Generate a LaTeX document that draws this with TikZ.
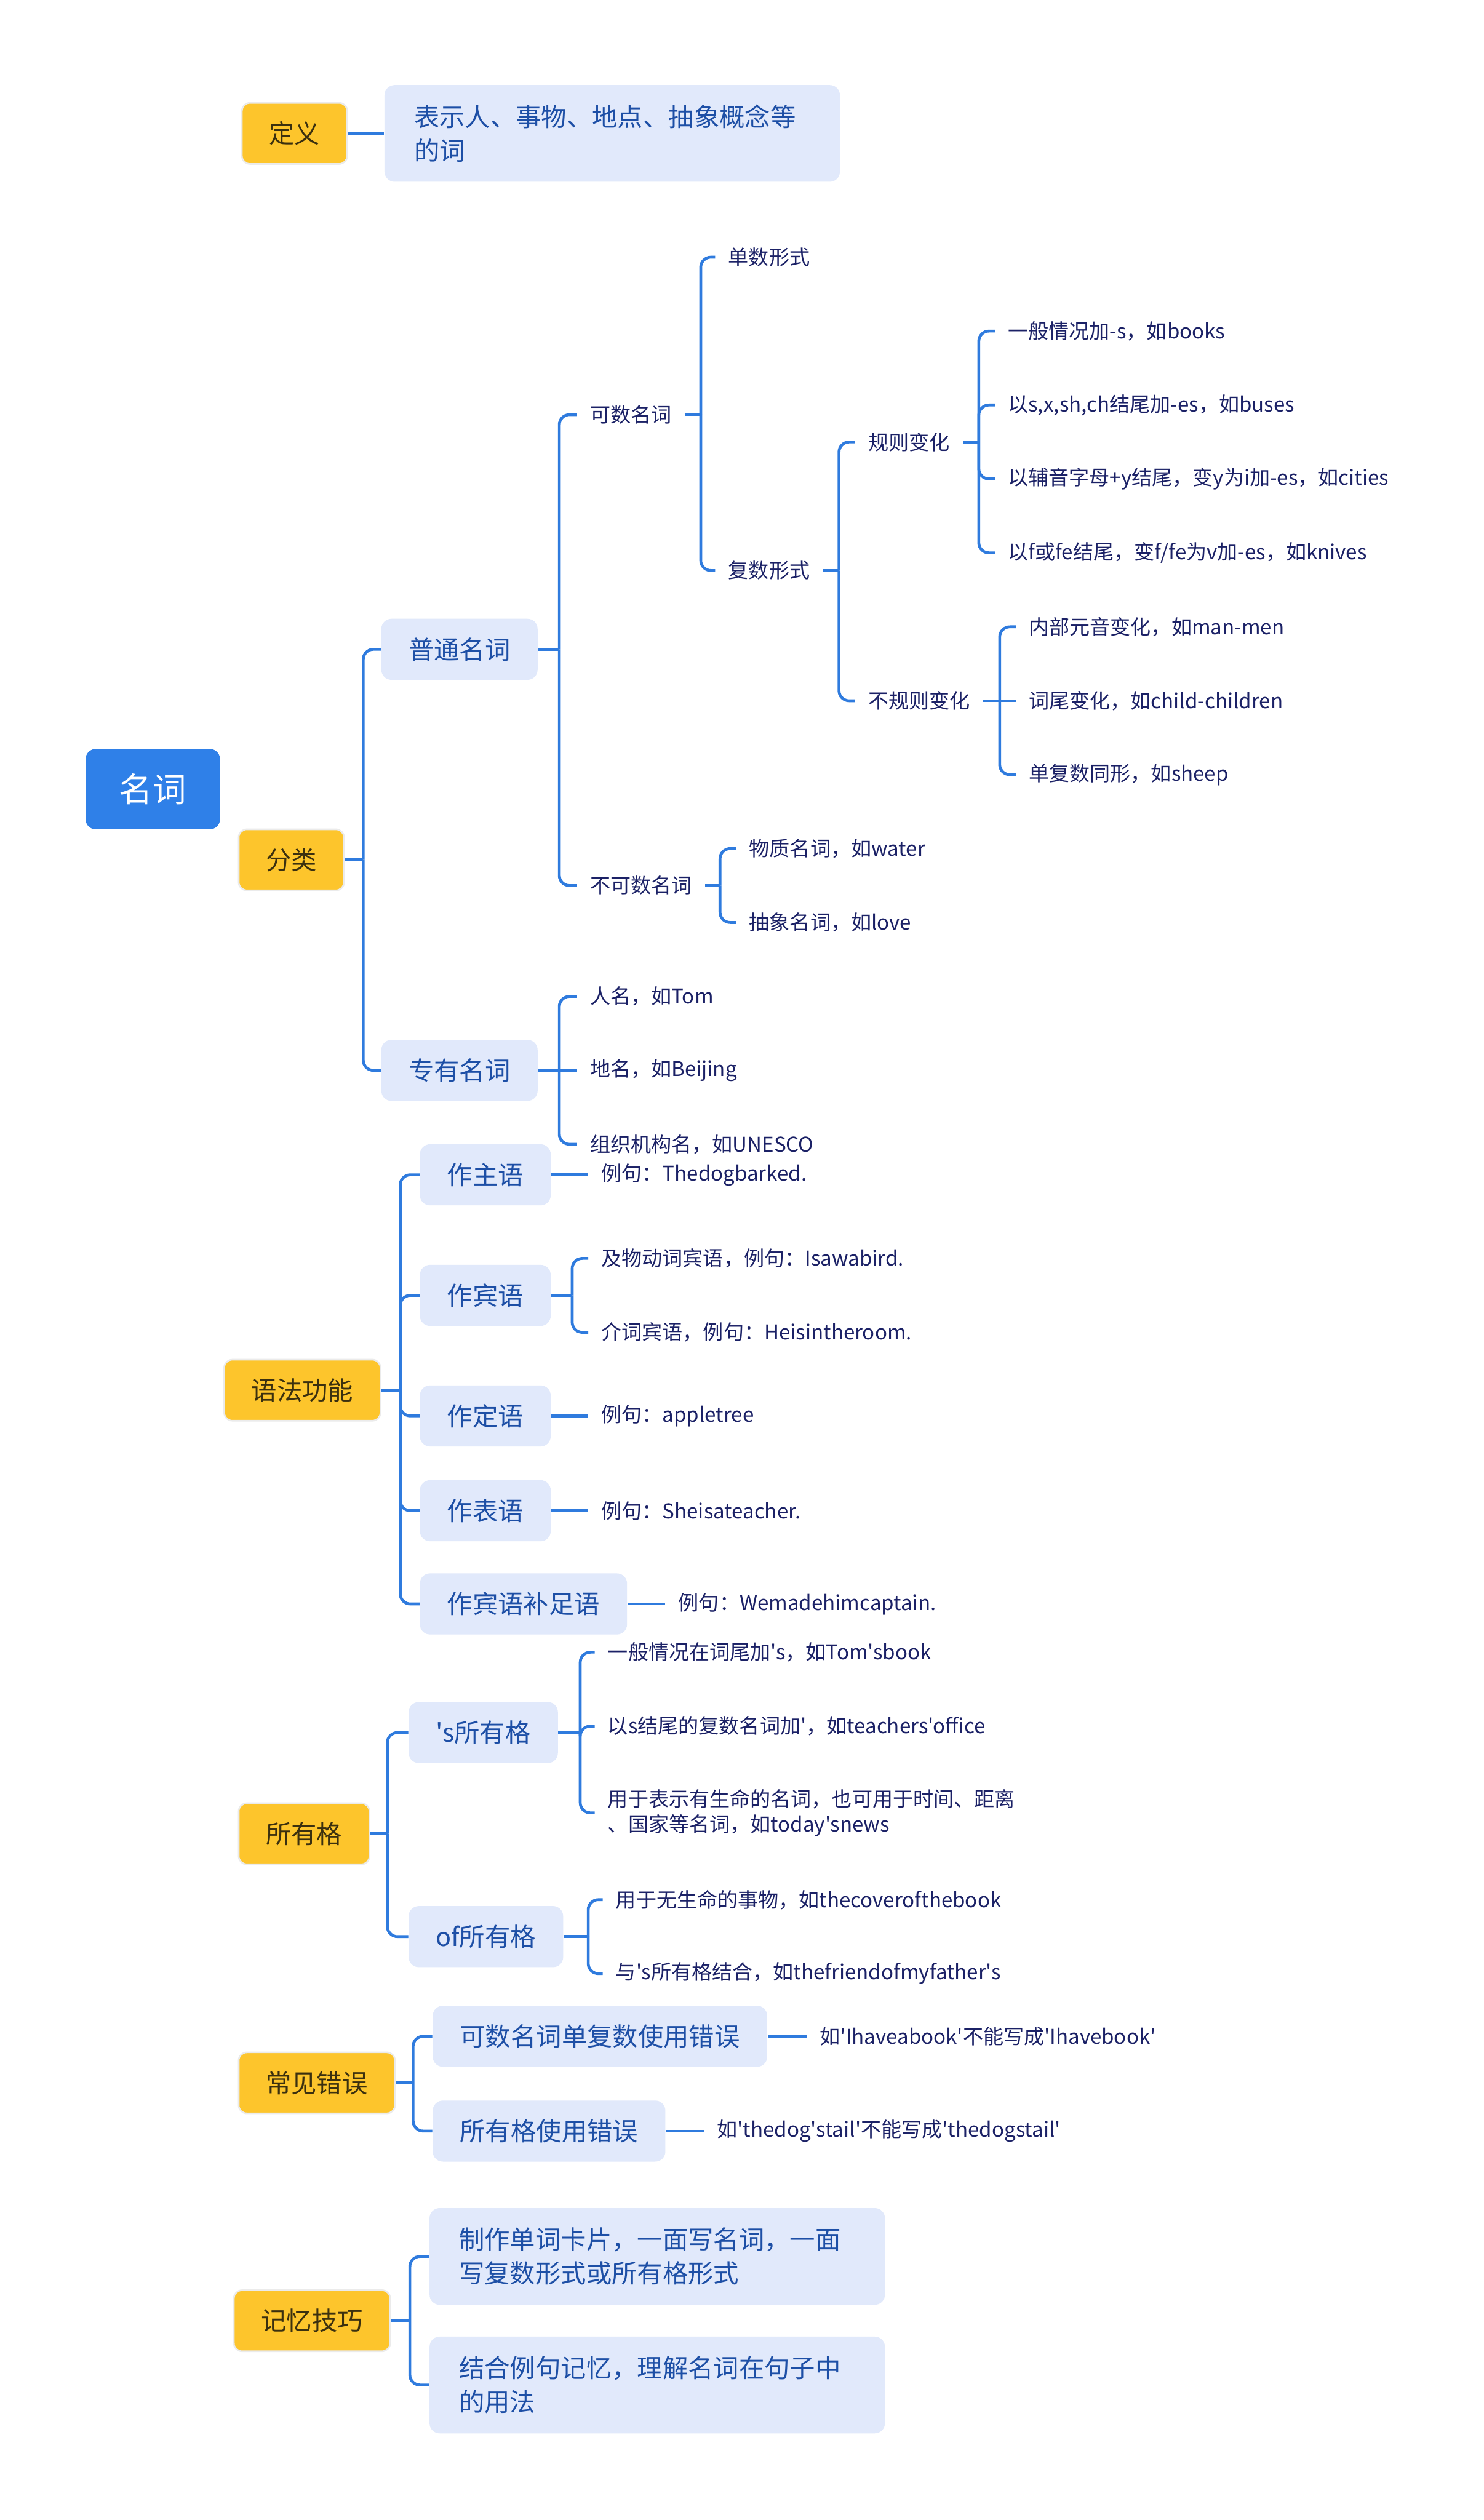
\documentclass[tikz,border=0pt]{standalone}
\usepackage{fontspec}
\setmainfont{Noto Sans CJK SC}[Ligatures=TeXOff]

\definecolor{rootblue}{HTML}{2F80E8}
\definecolor{linkblue}{HTML}{2F7BDE}
\definecolor{catyellow}{HTML}{FDC52C}
\definecolor{subfill}{HTML}{E1E9FB}
\definecolor{subtext}{HTML}{1D4FA6}
\definecolor{leaftext}{HTML}{1B2166}
\definecolor{cattext}{HTML}{3B300F}

\tikzset{
  link/.style={draw=linkblue, line width=1.4pt},
  rootbox/.style={anchor=west, fill=rootblue, rounded corners=5pt, text=white,
    font=\fontsize{16.5}{20}\selectfont, minimum height=1.387cm, inner xsep=0.58cm},
  catbox/.style={anchor=west, fill=catyellow, draw=black!8, line width=0.8pt, rounded corners=4pt,
    text=cattext, font=\fontsize{12.5}{16}\selectfont, minimum height=1.054cm, inner xsep=0.47cm},
  subbox/.style={anchor=west, fill=subfill, rounded corners=5pt, text=subtext,
    font=\fontsize{12.5}{16.6}\selectfont, minimum height=1.054cm, inner xsep=0.47cm},
  widebox/.style={subbox, align=left, text width=6.84cm, inner xsep=0.51cm, minimum height=1.67cm},
  leaf/.style={anchor=west, text=leaftext, font=\fontsize{10}{12.6}\selectfont,
    inner xsep=0.22cm, inner ysep=2pt, align=left},
}

% parent -> vertical bar at x=#2 -> each child (rounded only where the child is off the parent's line)
\newdimen\forkdy
\newcommand{\fork}[3]{%
  \path (#2,0) coordinate (#1-x);
  \draw[link] (#1.east) -- (#1.east -| #1-x) coordinate (#1-j);
  \foreach \kid in {#3} {%
    \pgfextracty{\forkdy}{\pgfpointdiff{\pgfpointanchor{#1-j}{center}}{\pgfpointanchor{\kid}{west}}}%
    \pgfmathsetmacro\forkr{abs(\forkdy)<1pt ? 0 : 5}%
    \draw[link, rounded corners=\forkr pt] (#1-j) |- (\kid.west);
  }
}

\begin{document}
\begin{tikzpicture}[x=0.027736cm, y=-0.027736cm]
  \fill[white] (0,0) rectangle (923,1568);
  \useasboundingbox (0,0) rectangle (923,1568);

  % Root
  \node[rootbox] (mingci) at (53,491) {名词};

  % Definition
  \node[catbox] (dingyi) at (150,83) {定义};
  \node[widebox] (dyText) at (239,83) {表示人、事物、地点、抽象概念等\\的词};
  \draw[link] (dingyi.east) -- (dyText.west);

  % Classification
  \node[catbox] (fenlei) at (148,535) {分类};
  \node[subbox] (putong) at (237,404) {普通名词};
  \node[subbox] (zhuanyou) at (237,666) {专有名词};
  \node[leaf] (kashu) at (359,258) {可数名词};
  \node[leaf] (bukashu) at (359,551) {不可数名词};
  \node[leaf] (danshu) at (445,160) {单数形式};
  \node[leaf] (fushu) at (445,355) {复数形式};
  \node[leaf] (guize) at (532,275) {规则变化};
  \node[leaf] (buguize) at (532,436) {不规则变化};
  \node[leaf] (g1) at (619,206) {一般情况加-s，如books};
  \node[leaf] (g2) at (619,252) {以s,x,sh,ch结尾加-es，如buses};
  \node[leaf] (g3) at (619,298) {以辅音字母+y结尾，变y为i加-es，如cities};
  \node[leaf] (g4) at (619,344) {以f或fe结尾，变f/fe为v加-es，如knives};
  \node[leaf] (bg1) at (632,390) {内部元音变化，如man-men};
  \node[leaf] (bg2) at (632,436) {词尾变化，如child-children};
  \node[leaf] (bg3) at (632,482) {单复数同形，如sheep};
  \node[leaf] (bk1) at (458,528) {物质名词，如water};
  \node[leaf] (bk2) at (458,574) {抽象名词，如love};
  \node[leaf] (zy1) at (359,620) {人名，如Tom};
  \node[leaf] (zy2) at (359,666) {地名，如Beijing};
  \node[leaf] (zy3) at (359,712) {组织机构名，如UNESCO};

  \fork{fenlei}{226}{putong,zhuanyou}
  \fork{putong}{348}{kashu,bukashu}
  \fork{kashu}{436}{danshu,fushu}
  \fork{fushu}{522}{guize,buguize}
  \fork{guize}{609}{g1,g2,g3,g4}
  \fork{buguize}{622}{bg1,bg2,bg3}
  \fork{bukashu}{448}{bk1,bk2}
  \fork{zhuanyou}{348}{zy1,zy2,zy3}

  % Grammar functions
  \node[catbox] (yufa) at (139,865) {语法功能};
  \node[subbox] (zhu) at (261,731) {作主语};
  \node[subbox] (bin) at (261,806) {作宾语};
  \node[subbox] (ding) at (261,881) {作定语};
  \node[subbox] (biao) at (261,940) {作表语};
  \node[subbox] (buzu) at (261,998) {作宾语补足语};
  \node[leaf] (zhuEx) at (366,731) {例句：Thedogbarked.};
  \node[leaf] (bin1) at (366,783) {及物动词宾语，例句：Isawabird.};
  \node[leaf] (bin2) at (366,829) {介词宾语，例句：Heisintheroom.};
  \node[leaf] (dingEx) at (366,881) {例句：appletree};
  \node[leaf] (biaoEx) at (366,940) {例句：Sheisateacher.};
  \node[leaf] (buzuEx) at (414,998) {例句：Wemadehimcaptain.};

  \fork{yufa}{249}{zhu,bin,ding,biao,buzu}
  \fork{zhu}{355}{zhuEx}
  \fork{bin}{356}{bin1,bin2}
  \fork{ding}{355}{dingEx}
  \fork{biao}{355}{biaoEx}
  \fork{buzu}{403}{buzuEx}

  % Possessive case
  \node[catbox] (suoyou) at (148,1141) {所有格};
  \node[subbox] (sPoss) at (254,1078) {'s所有格};
  \node[subbox] (ofPoss) at (254,1205) {of所有格};
  \node[leaf] (sp1) at (370,1028) {一般情况在词尾加's，如Tom'sbook};
  \node[leaf] (sp2) at (370,1074) {以s结尾的复数名词加'，如teachers'office};
  \node[leaf] (sp3) at (370,1128) {用于表示有生命的名词，也可用于时间、距离\\、国家等名词，如today'snews};
  \node[leaf] (of1) at (375,1182) {用于无生命的事物，如thecoverofthebook};
  \node[leaf] (of2) at (375,1228) {与's所有格结合，如thefriendofmyfather's};

  \fork{suoyou}{241}{sPoss,ofPoss}
  \fork{sPoss}{361}{sp1,sp2,sp3}
  \fork{ofPoss}{366}{of1,of2}

  % Common mistakes
  \node[catbox] (cuowu) at (148,1296) {常见错误};
  \node[subbox] (err1) at (269,1267) {可数名词单复数使用错误};
  \node[subbox] (err2) at (269,1326) {所有格使用错误};
  \node[leaf] (err1Ex) at (502,1267) {如'Ihaveabook'不能写成'Ihavebook'};
  \node[leaf] (err2Ex) at (438,1326) {如'thedog'stail'不能写成'thedogstail'};

  \fork{cuowu}{257}{err1,err2}
  \fork{err1}{490}{err1Ex}
  \fork{err2}{428}{err2Ex}

  % Memory tips
  \node[catbox] (jiyi) at (145,1444) {记忆技巧};
  \node[widebox] (tip1) at (267,1404) {制作单词卡片，一面写名词，一面\\写复数形式或所有格形式};
  \node[widebox] (tip2) at (267,1484) {结合例句记忆，理解名词在句子中\\的用法};

  \fork{jiyi}{255}{tip1,tip2}
\end{tikzpicture}
\end{document}
